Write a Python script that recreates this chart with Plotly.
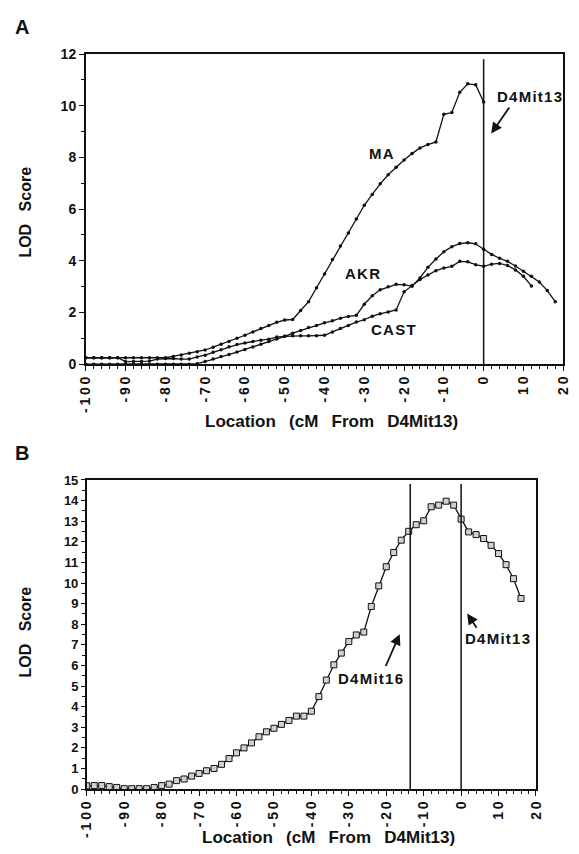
import plotly.graph_objects as go

# ---------------- data ----------------
# Panel A (2 cM steps)
ma_x = list(range(-100, 1, 2))
ma_y = [0.25, 0.25, 0.25, 0.25, 0.25, 0.25, 0.25, 0.25, 0.25, 0.25,
        0.25, 0.30, 0.36, 0.42, 0.48, 0.55, 0.66, 0.77, 0.88, 1.00,
        1.12, 1.25, 1.38, 1.50, 1.62, 1.71, 1.73, 2.08, 2.42, 2.96,
        3.49, 4.05, 4.57, 5.08, 5.62, 6.15, 6.57, 6.98, 7.33, 7.62,
        7.90, 8.15, 8.37, 8.50, 8.60, 9.67, 9.74, 10.52, 10.85, 10.81,
        10.15]

akr_x = list(range(-100, 19, 2))
akr_y = [0.0, 0.0, 0.0, 0.0, 0.0, 0.0, 0.0, 0.0, 0.0, 0.0,
         0.0, 0.0, 0.0, 0.0, 0.02, 0.10, 0.20, 0.30, 0.38, 0.47,
         0.57, 0.67, 0.77, 0.88, 0.98, 1.08, 1.20, 1.30, 1.42, 1.50,
         1.60, 1.68, 1.78, 1.85, 1.89, 2.32, 2.65, 2.88, 3.00, 3.09,
         3.07, 3.02, 3.34, 3.75, 4.07, 4.35, 4.55, 4.67, 4.70, 4.66,
         4.45, 4.25, 4.10, 3.98, 3.80, 3.60, 3.40, 3.18, 2.85, 2.42]

cast_x = list(range(-100, 13, 2))
cast_y = [0.25, 0.25, 0.25, 0.25, 0.25, 0.10, 0.10, 0.10, 0.12, 0.20,
          0.22, 0.22, 0.20, 0.20, 0.28, 0.35, 0.46, 0.56, 0.68, 0.76,
          0.82, 0.88, 0.93, 0.97, 1.05, 1.08, 1.10, 1.10, 1.10, 1.10,
          1.12, 1.25, 1.38, 1.50, 1.63, 1.72, 1.86, 1.95, 2.02, 2.10,
          2.80, 3.05, 3.28, 3.45, 3.62, 3.72, 3.79, 3.98, 3.96, 3.85,
          3.79, 3.87, 3.90, 3.82, 3.65, 3.40, 3.03]

# Panel B
b_x = list(range(-100, 17, 2))
b_y = [0.16, 0.17, 0.17, 0.12, 0.08, 0.02, 0.02, 0.02, 0.02, 0.08,
       0.17, 0.24, 0.41, 0.49, 0.63, 0.76, 0.89, 1.00, 1.20, 1.48,
       1.76, 2.00, 2.24, 2.54, 2.78, 2.95, 3.14, 3.33, 3.54, 3.54,
       3.78, 4.49, 5.29, 6.03, 6.60, 7.16, 7.48, 7.62, 8.86, 9.86,
       10.79, 11.48, 12.08, 12.51, 12.83, 13.02, 13.70, 13.78, 13.97, 13.78,
       13.10, 12.48, 12.35, 12.16, 11.83, 11.43, 10.89, 10.21, 9.25]

x_tick_vals = list(range(-100, 21, 10))
a_y_ticks = list(range(0, 13, 2))
b_y_ticks = list(range(0, 16, 1))

marker_a = 0      # D4Mit13
marker_b16 = -13.6  # D4Mit16
marker_b13 = 0    # D4Mit13

# ---------------- figure ----------------
W, H = 579, 854
FONT = "Liberation Sans"
INK = "#111111"
HAIR = "\u200a"


def px(x):
    return x / W


def py(y):
    return 1 - y / H


def spaced(v, sep="\u2009"):
    return sep.join(str(v))


fig = go.Figure()

line_a = dict(color=INK, width=1.3)
mk_a = dict(symbol="circle", size=3.5, color=INK)
for xs, ys, name in [(ma_x, ma_y, "MA"), (akr_x, akr_y, "AKR"), (cast_x, cast_y, "CAST")]:
    fig.add_trace(go.Scatter(x=xs, y=ys, mode="lines+markers", name=name,
                             line=line_a, marker=mk_a, xaxis="x", yaxis="y",
                             showlegend=False))

fig.add_trace(go.Scatter(x=b_x, y=b_y, mode="lines+markers", name="LOD",
                         line=dict(color=INK, width=1.3),
                         marker=dict(symbol="square", size=6, color="#d0d0d0",
                                     line=dict(color=INK, width=1)),
                         xaxis="x2", yaxis="y2", showlegend=False))

tickfont_x = dict(family=FONT, size=14, color=INK, weight="bold")
xaxis_common = dict(
    range=[-100, 20], tickvals=x_tick_vals,
    ticktext=[spaced(v) for v in x_tick_vals], tickangle=-90,
    tickfont=tickfont_x, ticks="outside", ticklen=5, tickwidth=1.2,
    tickcolor=INK, showline=True, linecolor=INK, linewidth=1.6,
    mirror=True, showgrid=False, zeroline=False,
    minor=dict(dtick=2, ticks="outside", ticklen=3, tickwidth=1, tickcolor=INK),
)

fig.update_layout(
    width=W, height=H,
    margin=dict(l=0, r=0, t=0, b=0),
    paper_bgcolor="white", plot_bgcolor="white",
    hovermode=False,
    xaxis=dict(domain=[px(80), px(571)], anchor="y", **xaxis_common),
    yaxis=dict(domain=[py(363), py(47)], anchor="x", range=[0, 12],
               tickvals=a_y_ticks, tickfont=dict(family=FONT, size=14, color=INK, weight="bold"),
               ticks="outside", ticklen=5, tickwidth=1.2, tickcolor=INK,
               showline=True, linecolor=INK, linewidth=1.6, mirror=True,
               showgrid=False, zeroline=False,
               minor=dict(dtick=1, ticks="outside", ticklen=3, tickwidth=1, tickcolor=INK)),
    xaxis2=dict(domain=[px(81), px(543)], anchor="y2", **xaxis_common),
    yaxis2=dict(domain=[py(796), py(481)], anchor="x2", range=[0, 15],
                tickvals=b_y_ticks, tickfont=dict(family=FONT, size=13, color=INK, weight="bold"),
                ticks="outside", ticklen=4, tickwidth=1.2, tickcolor=INK,
                showline=True, linecolor=INK, linewidth=1.6, mirror=True,
                showgrid=False, zeroline=False,
                minor=dict(dtick=0.5, ticks="outside", ticklen=2.5, tickwidth=1, tickcolor=INK)),
)

# vertical marker lines
fig.add_shape(type="line", xref="x", yref="y", x0=marker_a, x1=marker_a, y0=0, y1=11.8,
              line=dict(color=INK, width=1.5))
for mx in (marker_b16, marker_b13):
    fig.add_shape(type="line", xref="x2", yref="y2", x0=mx, x1=mx, y0=0, y1=14.8,
                  line=dict(color=INK, width=1.5))

ann_font = dict(family=FONT, size=15, color=INK, weight="bold")
title_font = dict(family=FONT, size=17, color=INK, weight="bold")


def paper_text(text, x, y, font, angle=0):
    fig.add_annotation(text=text, x=px(x), y=py(y), xref="paper", yref="paper",
                       xanchor="center", yanchor="middle", showarrow=False,
                       textangle=angle, font=font)


def data_text(text, x, y, xr, yr):
    fig.add_annotation(text=spaced(text, HAIR), x=x, y=y, xref=xr, yref=yr,
                       xanchor="center", yanchor="middle", showarrow=False, font=ann_font)


def arrow(x, y, ax, ay, xr, yr):
    fig.add_annotation(x=x, y=y, ax=ax, ay=ay, xref=xr, yref=yr, axref=xr, ayref=yr,
                       text="", showarrow=True, arrowhead=2, arrowsize=1.2,
                       arrowwidth=1.8, arrowcolor=INK)


# panel letters
letter_font = dict(family=FONT, size=20, color=INK, weight="bold")
paper_text("A", 14, 19, letter_font)
paper_text("B", 14, 453, letter_font)

# axis titles
xt = "Location\u2002 (cM\u2002 From\u2002 D4Mit13)"
paper_text(xt, 333, 421, title_font)
paper_text(xt, 330, 845, title_font)
ytitle_font = dict(family=FONT, size=16, color=INK, weight="bold")
paper_text("LOD\u2002 Score", 18, 208, ytitle_font, -90)
paper_text("LOD\u2002 Score", 18, 636, ytitle_font, -90)

# curve labels (panel A)
data_text("MA", -25.6, 8.17, "x", "y")
data_text("AKR", -30.5, 3.5, "x", "y")
data_text("CAST", -22.7, 1.33, "x", "y")
data_text("D4Mit13", 11.5, 10.37, "x", "y")
arrow(1.9, 8.93, 6.7, 9.99, "x", "y")

# panel B labels
data_text("D4Mit16", -24.2, 5.38, "x2", "y2")
data_text("D4Mit13", 9.6, 7.29, "x2", "y2")
arrow(-16.4, 7.52, -20.3, 5.9, "x2", "y2")
arrow(1.6, 8.52, 4.4, 7.76, "x2", "y2")

fig.write_html("out.html", config={"displayModeBar": False},
               post_script="document.body.style.margin='0';")
